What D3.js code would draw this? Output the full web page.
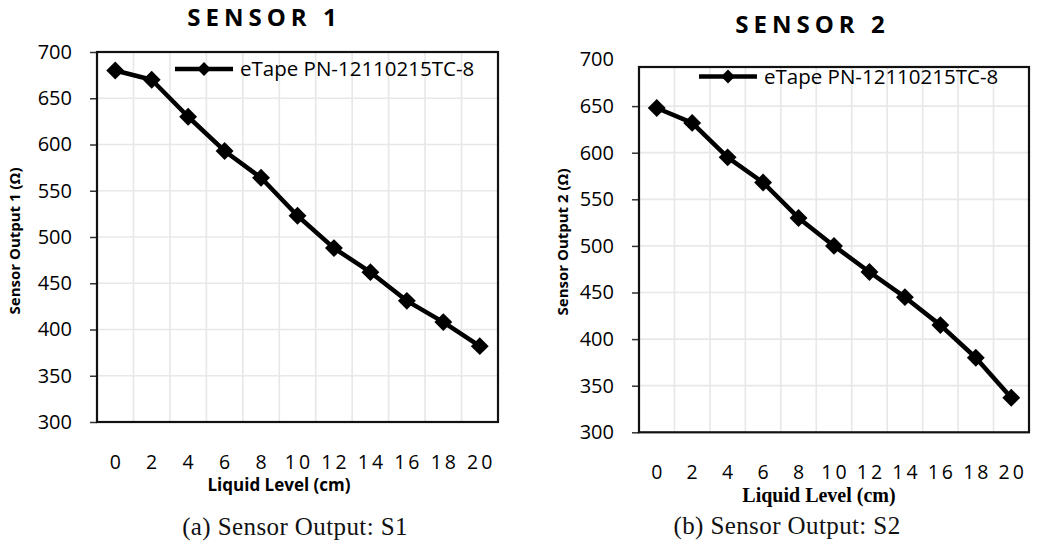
<!DOCTYPE html>
<html>
<head>
<meta charset="utf-8">
<script src="https://cdn.jsdelivr.net/npm/d3@7"></script>
<style>
  body { margin: 0; background: #fff; }
  svg { display: block; font-family: "Open Sans", sans-serif; }
</style>
</head>
<body>
<svg id="chart"></svg>
<script>
/** Chart values */
const levels = [0, 2, 4, 6, 8, 10, 12, 14, 16, 18, 20];
const sensor1 = [680, 670, 630, 593, 564, 523, 488, 462, 431, 408, 382];
const sensor2 = [648, 632, 595, 568, 530, 500, 472, 445, 415, 380, 337];
const yTicks = [300, 350, 400, 450, 500, 550, 600, 650, 700];
const legendLabel = 'eTape PN-12110215TC-8';

const width = 1038;
const height = 542;

const svg = d3.select('#chart')
    .attr('width', width)
    .attr('height', height);

svg.append('rect').attr('width', width).attr('height', height).attr('fill', '#fff');

// layout of each panel (top = where 700 sits, frameTop = top edge of the box)
const panels = [
    {
        values: sensor1, title: 'SENSOR 1', titleX: 262, titleY: 26,
        left: 97, right: 498, top: 52, bottom: 422, frameTop: 52,
        yLabel: 'Sensor Output 1 (Ω)', yLabelX: 15, yLabelY: 241,
        xLabel: 'Liquid Level (cm)', xLabelX: 279, xLabelY: 491,
        xLabelFont: '"Open Sans", sans-serif', xLabelSize: 17, tickPad: 33,
        caption: '(a) Sensor Output: S1', captionX: 295, captionY: 535,
        legendX: 175, legendY: 69
    },
    {
        values: sensor2, title: 'SENSOR 2', titleX: 810, titleY: 33,
        left: 639, right: 1029, top: 59.5, bottom: 432.3, frameTop: 67,
        yLabel: 'Sensor Output 2 (Ω)', yLabelX: 563, yLabelY: 242,
        xLabel: 'Liquid Level (cm)', xLabelX: 819, xLabelY: 502,
        xLabelFont: '"Liberation Serif", serif', xLabelSize: 20, tickPad: 32.5,
        caption: '(b) Sensor Output: S2', captionX: 787, captionY: 534,
        legendX: 699, legendY: 76.5
    }
];

const drawPanel = (p) => {
    const g = svg.append('g');

    const xScale = d3.scaleBand()
        .domain(levels)
        .range([p.left, p.right]);
    const yScale = d3.scaleLinear()
        .domain([300, 700])
        .range([p.bottom, p.top]);
    const bw = xScale.bandwidth();
    const topValue = yScale.invert(p.frameTop);

    // grid
    g.append('g').selectAll('line')
        .data(levels.slice(1))
        .enter()
        .append('line')
        .attr('x1', d => xScale(d)).attr('x2', d => xScale(d))
        .attr('y1', p.frameTop).attr('y2', p.bottom)
        .attr('stroke', '#e8e8e8').attr('stroke-width', 1.7);

    g.append('g').selectAll('line')
        .data(yTicks.filter(v => v > 300 && v < topValue - 1))
        .enter()
        .append('line')
        .attr('x1', p.left).attr('x2', p.right)
        .attr('y1', d => yScale(d)).attr('y2', d => yScale(d))
        .attr('stroke', '#e8e8e8').attr('stroke-width', 1.7);

    // y axis
    const yAxis = d3.axisLeft(yScale)
        .tickValues(yTicks)
        .tickSizeInner(7)
        .tickSizeOuter(0)
        .tickPadding(18);

    const ya = g.append('g')
        .attr('transform', `translate(${p.left}, 0)`)
        .call(yAxis);
    ya.select('.domain').remove();
    ya.selectAll('.tick line')
        .attr('stroke', '#333')
        .attr('stroke-width', 1.5)
        .style('display', d => d > topValue + 0.5 ? 'none' : null);
    ya.selectAll('.tick text')
        .attr('font-family', '"Open Sans", sans-serif')
        .attr('font-size', 20)
        .attr('fill', '#000');

    // x axis
    const xAxis = d3.axisBottom(xScale)
        .tickSize(0)
        .tickPadding(p.tickPad);

    const xa = g.append('g')
        .attr('transform', `translate(0, ${p.bottom})`)
        .call(xAxis);
    xa.select('.domain').remove();
    xa.selectAll('.tick text')
        .attr('font-family', '"Open Sans", sans-serif')
        .attr('font-size', 19.5)
        .attr('letter-spacing', 3)
        .attr('dx', 1.5)
        .attr('fill', '#000');

    // frame
    g.append('rect')
        .attr('x', p.left).attr('y', p.frameTop)
        .attr('width', p.right - p.left).attr('height', p.bottom - p.frameTop)
        .attr('fill', 'none')
        .attr('stroke', '#111')
        .attr('stroke-width', 2.2);

    // series
    const pts = levels.map((l, i) => ({ level: l, value: p.values[i] }));
    const line = d3.line()
        .x(d => xScale(d.level) + bw / 2)
        .y(d => yScale(d.value));

    g.append('path')
        .datum(pts)
        .attr('d', line)
        .attr('fill', 'none')
        .attr('stroke', '#000')
        .attr('stroke-width', 4.5)
        .attr('stroke-linejoin', 'round');

    const marker = d3.symbol(d3.symbolSquare, 160);
    g.append('g').selectAll('path')
        .data(pts)
        .enter()
        .append('path')
        .attr('d', marker)
        .attr('transform', d => `translate(${xScale(d.level) + bw / 2}, ${yScale(d.value)}) rotate(45)`)
        .attr('fill', '#000');

    // legend
    g.append('line')
        .attr('x1', p.legendX).attr('x2', p.legendX + 58)
        .attr('y1', p.legendY).attr('y2', p.legendY)
        .attr('stroke', '#000').attr('stroke-width', 4.5);
    g.append('path')
        .attr('d', d3.symbol(d3.symbolSquare, 95))
        .attr('transform', `translate(${p.legendX + 29}, ${p.legendY}) rotate(45)`)
        .attr('fill', '#000');
    g.append('text')
        .attr('x', p.legendX + 65)
        .attr('y', p.legendY)
        .attr('dy', '0.36em')
        .attr('font-size', 20.5)
        .attr('fill', '#000')
        .text(legendLabel);

    // titles and labels
    g.append('text')
        .attr('x', p.titleX + 2.5).attr('y', p.titleY)
        .attr('text-anchor', 'middle')
        .attr('font-size', 24)
        .attr('font-weight', 'bold')
        .attr('letter-spacing', 5)
        .attr('fill', '#000')
        .text(p.title);

    g.append('text')
        .attr('transform', `translate(${p.yLabelX}, ${p.yLabelY}) rotate(-90)`)
        .attr('text-anchor', 'middle')
        .attr('dy', '0.35em')
        .attr('font-size', 15)
        .attr('font-weight', 'bold')
        .attr('fill', '#000')
        .text(p.yLabel);

    g.append('text')
        .attr('x', p.xLabelX).attr('y', p.xLabelY)
        .attr('text-anchor', 'middle')
        .attr('font-family', p.xLabelFont)
        .attr('font-size', p.xLabelSize)
        .attr('font-weight', 'bold')
        .attr('fill', '#000')
        .text(p.xLabel);

    g.append('text')
        .attr('x', p.captionX).attr('y', p.captionY)
        .attr('text-anchor', 'middle')
        .attr('font-family', '"Liberation Serif", serif')
        .attr('font-size', 25)
        .attr('letter-spacing', 0.4)
        .attr('fill', '#111')
        .text(p.caption);
};

panels.forEach(drawPanel);
</script>
</body>
</html>
